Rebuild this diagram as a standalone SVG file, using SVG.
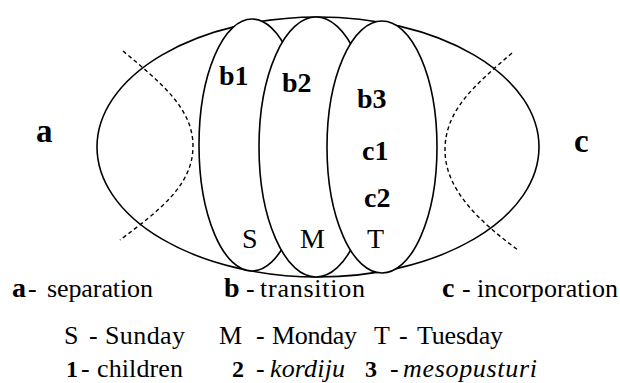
<svg xmlns="http://www.w3.org/2000/svg" width="620" height="383" viewBox="0 0 620 383">
<style>
.ln{fill:none;stroke:#000;stroke-width:1.6}
.ov{fill:#fff;stroke:#000;stroke-width:1.6}
.ds{fill:none;stroke:#000;stroke-width:1.4;stroke-dasharray:4 3}
.lb{font-family:"Liberation Serif",serif;font-weight:bold;font-size:28px;fill:#000}
.big{font-family:"Liberation Serif",serif;font-weight:bold;font-size:33px;fill:#000}
.dy{font-family:"Liberation Serif",serif;font-size:28px;fill:#000}
.lg{font-family:"Liberation Serif",serif;font-size:26px;fill:#000}
.lgb{font-family:"Liberation Serif",serif;font-size:28px;font-weight:bold;fill:#000}
.num{font-family:"Liberation Serif",serif;font-size:24px;font-weight:bold;fill:#000}
.it{font-style:italic}
</style>
<rect width="620" height="383" fill="#fff"/>
<g id="outer">
<ellipse class="ln" cx="318" cy="147" rx="221" ry="130"/>
</g>
<g id="a-separation">
<path class="ds" d="M123,51 C160,82 193,108 193,146 C193,185 160,210 120,240"/>
<text class="big" x="36" y="142">a</text>
</g>
<g id="c-incorporation">
<path class="ds" d="M512,53 C475,85 445,110 445,150 C445,190 480,222 518,250"/>
<text class="big" x="574" y="152">c</text>
</g>
<g id="b1-sunday">
<ellipse class="ov" cx="252" cy="145" rx="53" ry="126"/>
<text class="lb" x="219" y="85">b1</text>
<text class="dy" x="242" y="248">S</text>
</g>
<g id="b2-monday">
<ellipse class="ov" cx="316" cy="147" rx="57" ry="130"/>
<text class="lb" x="282" y="92">b2</text>
<text class="dy" x="300" y="248">M</text>
</g>
<g id="b3-tuesday">
<ellipse class="ov" cx="382" cy="147" rx="55" ry="126"/>
<text class="lb" x="357" y="108">b3</text>
<text class="lb" x="362" y="160">c1</text>
<text class="lb" x="364" y="207">c2</text>
<text class="dy" x="367" y="248">T</text>
</g>
<g id="legend">
<text class="lgb" x="12" y="297">a</text>
<text class="lg" x="28" y="297">-</text>
<text class="lg" x="47" y="297" textLength="106">separation</text>
<text class="lgb" x="224" y="297">b</text>
<text class="lg" x="246" y="297">-</text>
<text class="lg" x="260" y="297" textLength="105">transition</text>
<text class="lgb" x="442" y="297">c</text>
<text class="lg" x="462" y="297">-</text>
<text class="lg" x="477" y="297" textLength="141">incorporation</text>

<text class="lg" x="64" y="344">S</text>
<text class="lg" x="89" y="344">-</text>
<text class="lg" x="105" y="344" textLength="80">Sunday</text>
<text class="lg" x="219" y="344">M</text>
<text class="lg" x="256" y="344">-</text>
<text class="lg" x="272" y="344" textLength="85">Monday</text>
<text class="lg" x="374" y="344">T</text>
<text class="lg" x="399" y="344">-</text>
<text class="lg" x="417" y="344" textLength="86">Tuesday</text>

<text class="num" x="66" y="377">1</text>
<text class="lg" x="81" y="377">-</text>
<text class="lg" x="97" y="377" textLength="86">children</text>
<text class="num" x="232" y="377">2</text>
<text class="lg" x="256" y="377">-</text>
<text class="lg it" x="270" y="377" textLength="75">kordiju</text>
<text class="num" x="365" y="377">3</text>
<text class="lg" x="390" y="377">-</text>
<text class="lg it" x="403" y="377" textLength="134">mesopusturi</text>
</g>
</svg>
